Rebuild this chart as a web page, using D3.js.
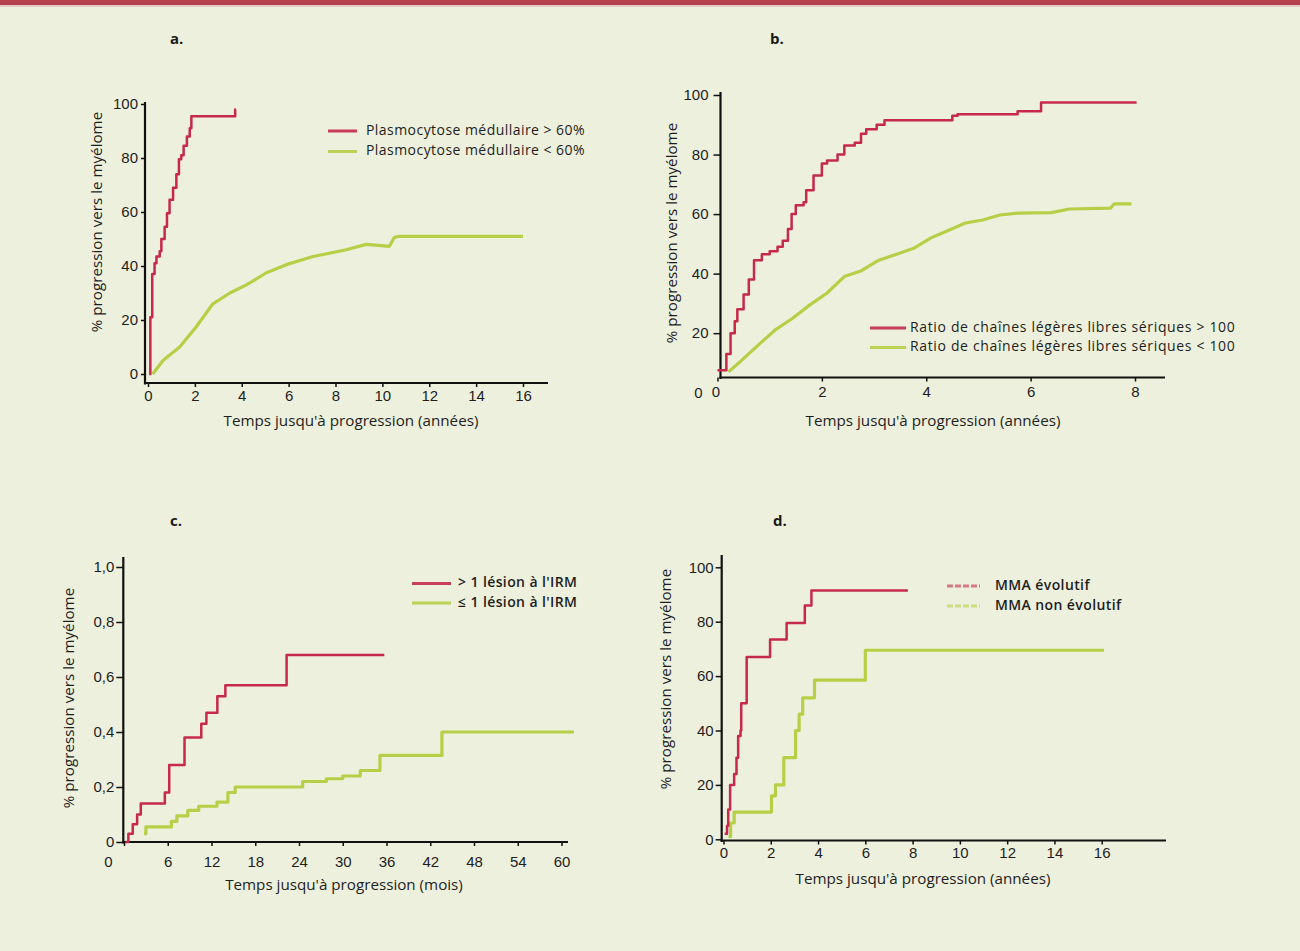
<!DOCTYPE html>
<html><head><meta charset="utf-8">
<script src="https://cdn.jsdelivr.net/npm/d3@7"></script>
<style>
body{margin:0;background:#edf0dd;}
svg{display:block;font-family:"Open Sans",sans-serif;}
</style></head><body>
<svg id="chart" width="1300" height="951"></svg>
<script>
// ---------- DATA ----------
const panelLabels = ["a.", "b.", "c.", "d."];
const yTitle = "% progression vers le myélome";
const xTitleYears = "Temps jusqu'à progression (années)";
const xTitleMonths = "Temps jusqu'à progression (mois)";

const aLegend = ["Plasmocytose médullaire > 60%", "Plasmocytose médullaire < 60%"];
const bLegend = ["Ratio de chaînes légères libres sériques > 100", "Ratio de chaînes légères libres sériques < 100"];
const cLegend = ["> 1 lésion à l'IRM", "≤ 1 lésion à l'IRM"];
const dLegend = ["MMA évolutif", "MMA non évolutif"];

const aXTicks = [0,2,4,6,8,10,12,14,16];
const aYTicks = [0,20,40,60,80,100];
const bXTicks = [0,2,4,6,8];
const bYTicks = [0,20,40,60,80,100];
const cXTicks = [0,6,12,18,24,30,36,42,48,54,60];
const cYTicks = [0,0.2,0.4,0.6,0.8,1.0];
const dXTicks = [0,2,4,6,8,10,12,14,16];
const dYTicks = [0,20,40,60,80,100];

// [time, cumulative progression]
const aRed = [[0.05,0],[0.1,21],[0.17,21],[0.18,37],[0.28,41],[0.36,43.5],[0.5,45.5],[0.57,50],[0.71,54.5],[0.81,59.5],[0.92,64.5],[1.07,69],[1.21,74],[1.32,79.5],[1.42,81],[1.52,84.5],[1.66,88],[1.78,91],[1.85,95.5],[3.68,95.5],[3.72,98],[3.75,98]];
const aGreen = [[0.2,0],[0.64,5],[1.35,10],[2.06,17.5],[2.77,26],[3.49,30],[4.2,33],[5.05,37.5],[5.9,40.5],[7.04,43.5],[8.46,46],[9.3,48],[10.3,47.3],[10.5,50.5],[10.7,51],[16,51]];

const bRed = [[0,7.5],[0.17,13],[0.25,20],[0.33,24],[0.38,28],[0.5,33],[0.6,38],[0.7,44.5],[0.85,46.5],[1.0,47.5],[1.15,49],[1.25,51],[1.35,55],[1.42,60],[1.5,63],[1.65,64],[1.7,68],[1.84,73],[2.0,77],[2.1,78],[2.3,80],[2.43,83],[2.63,84],[2.75,87],[2.85,88.5],[3.05,90],[3.2,91.5],[4.3,91.5],[4.5,93],[4.6,93.5],[5.75,94.5],[6.2,97.5],[8.03,97.5]];
const bGreen = [[0.21,7],[0.44,10.5],[0.78,16],[1.1,21],[1.44,25],[1.77,29.5],[2.1,33.5],[2.43,39],[2.76,41],[3.09,44.5],[3.43,46.5],[3.76,48.5],[4.09,52],[4.42,54.5],[4.75,57],[5.08,58],[5.41,59.7],[5.75,60.3],[6.4,60.5],[6.74,61.7],[7.53,62],[7.6,63.4],[7.93,63.4]];

const cRed = [[0.2,0],[0.6,0.03],[1.2,0.065],[1.8,0.1],[2.3,0.14],[5.6,0.18],[6.2,0.28],[8.3,0.38],[10.6,0.43],[11.3,0.47],[12.8,0.53],[13.9,0.57],[22.3,0.68],[35.7,0.68]];
const cGreen = [[2.75,0.03],[3,0.055],[6.5,0.075],[7.25,0.095],[8.75,0.115],[10.25,0.13],[12.75,0.145],[14.25,0.18],[15.25,0.2],[24.5,0.22],[27.75,0.23],[30,0.24],[32.4,0.26],[35.1,0.315],[43.6,0.4],[61.7,0.4]];

const dRed = [[0.05,2],[0.15,5],[0.2,11],[0.28,20],[0.45,24],[0.55,30],[0.62,38],[0.72,40],[0.75,50],[0.98,67],[1.97,73.5],[2.67,79.5],[3.44,86],[3.72,91.5],[7.8,91.5]];
const dGreen = [[0.21,1],[0.3,6],[0.45,10],[2.03,16],[2.2,20],[2.55,30],[3.05,40],[3.2,46],[3.35,52],[3.85,58.5],[6.0,69.5],[16.1,69.5]];

// ---------- STYLE ----------
const RED = "#c6294c", GREEN = "#b6cf47", INK = "#1e1e1e";

const svg = d3.select("#chart");
svg.append("rect").attr("x",0).attr("y",0).attr("width",1300).attr("height",951).attr("fill","#edf0dd");
svg.append("rect").attr("x",0).attr("y",0).attr("width",1300).attr("height",5).attr("fill","#b5404f");
svg.append("rect").attr("x",0).attr("y",5).attr("width",1300).attr("height",2).attr("fill","#e2c9c4");

const frFmt = d3.formatLocale({decimal:",", thousands:" ", grouping:[3], currency:["","€"]}).format(".1f");

function panel(cfg){
  const g = svg.append("g");
  const x = d3.scaleLinear().domain(cfg.xDom).range(cfg.xRange);
  const y = d3.scaleLinear().domain(cfg.yDom).range(cfg.yRange);

  g.append("line").attr("x1",cfg.yAxisX).attr("x2",cfg.yAxisX).attr("y1",cfg.yAxisTop).attr("y2",cfg.xAxisY+1.5)
    .attr("stroke","#111").attr("stroke-width",2.2);
  g.append("line").attr("x1",cfg.yAxisX-1).attr("x2",cfg.xAxisEnd).attr("y1",cfg.xAxisY).attr("y2",cfg.xAxisY)
    .attr("stroke","#111").attr("stroke-width",2.2);

  const ax = g.append("g").attr("transform",`translate(0,${cfg.xAxisY})`)
    .call(d3.axisBottom(x).tickValues(cfg.xTicks).tickSize(4).tickPadding(cfg.xPad).tickFormat(d=>String(d)));
  ax.select(".domain").remove();
  ax.selectAll(".tick line").attr("stroke","#111").attr("stroke-width",1.5);
  ax.selectAll(".tick text").attr("fill",INK).style("font-size",cfg.tickFont+"px");
  if (cfg.xZeroShift) ax.selectAll(".tick").filter(d=>d===0).select("text").attr("dx",cfg.xZeroShift);

  const ay = g.append("g").attr("transform",`translate(${cfg.yAxisX},0)`)
    .call(d3.axisLeft(y).tickValues(cfg.yTicks).tickSize(cfg.yTick).tickPadding(cfg.yPad).tickFormat(cfg.yFmt));
  ay.select(".domain").remove();
  ay.selectAll(".tick line").attr("stroke","#111").attr("stroke-width",1.5);
  ay.selectAll(".tick text").attr("fill",INK).style("font-size",cfg.tickFont+"px");
  if (cfg.hideZeroTick) ay.selectAll(".tick").filter(d=>d===0).select("line").remove();
  if (cfg.yZeroShift) ay.selectAll(".tick").filter(d=>d===0).select("text").attr("dx",cfg.yZeroShift);

  g.append("text").attr("x",cfg.xTitlePos[0]).attr("y",cfg.xTitlePos[1]).attr("text-anchor","middle")
    .attr("dominant-baseline","middle").attr("fill",INK).style("font-size","15.2px").text(cfg.xTitle);
  g.append("text").attr("transform",`translate(${cfg.yTitlePos[0]},${cfg.yTitlePos[1]}) rotate(-90)`)
    .attr("text-anchor","middle").attr("dominant-baseline","middle").attr("fill",INK)
    .style("font-size","15.2px").text(yTitle);
  g.append("text").attr("x",cfg.labelPos[0]).attr("y",cfg.labelPos[1]).attr("dominant-baseline","middle")
    .attr("fill","#1a1a1a").style("font-size","15px").style("font-weight","700").text(cfg.label);

  const series = [[cfg.red, RED, 2.5, cfg.redCurve],[cfg.green, GREEN, 3.2, cfg.greenCurve]];
  series.slice().reverse().forEach(([data,col,w,curve])=>{
    g.append("path").datum(data)
      .attr("d", d3.line().x(d=>x(d[0])).y(d=>y(d[1])).curve(curve))
      .attr("fill","none").attr("stroke",col).attr("stroke-width",w).attr("stroke-linejoin","round");
  });

  const L = cfg.legend;
  [[RED,L.y[0],cfg.legendText[0]],[GREEN,L.y[1],cfg.legendText[1]]].forEach(([col,yy,t])=>{
    g.append("line").attr("x1",L.x1).attr("x2",L.x2).attr("y1",yy).attr("y2",yy)
      .attr("stroke",col).attr("stroke-width",3).attr("opacity",L.opacity||0.9)
      .attr("stroke-dasharray",L.dash||null);
    g.append("text").attr("x",L.tx).attr("y",yy).attr("dominant-baseline","middle").attr("fill",INK)
      .style("font-size",L.font+"px").style("letter-spacing",(L.ls||0)+"px")
      .style("font-weight",L.weight||400).text(t);
  });
}

panel({
  label:panelLabels[0], labelPos:[170,40],
  xDom:[0,16], xRange:[148,523], yDom:[0,100], yRange:[374,104],
  xAxisY:383, yAxisX:145, xAxisEnd:548, yAxisTop:102,
  xTicks:aXTicks, yTicks:aYTicks, yFmt:d=>String(d), yTick:4, yPad:3, xPad:3, tickFont:15,
  xTitle:xTitleYears, xTitlePos:[351,422], yTitlePos:[98,222],
  red:aRed, green:aGreen, redCurve:d3.curveStepAfter, greenCurve:d3.curveLinear,
  legend:{x1:328,x2:357,y:[131,151.5],tx:366,font:14,ls:0.45}, legendText:aLegend
});

panel({
  label:panelLabels[1], labelPos:[770,40],
  xDom:[0,8], xRange:[717.5,1135], yDom:[0,100], yRange:[392.7,95],
  xAxisY:377.5, yAxisX:720.5, xAxisEnd:1165, yAxisTop:92,
  xTicks:bXTicks, yTicks:bYTicks, yFmt:d=>String(d), yTick:7, yPad:5, xPad:5, tickFont:15,
  xZeroShift:-2, yZeroShift:-6, hideZeroTick:true,
  xTitle:xTitleYears, xTitlePos:[933,422], yTitlePos:[673,233],
  red:bRed, green:bGreen, redCurve:d3.curveStepAfter, greenCurve:d3.curveLinear,
  legend:{x1:870,x2:906,y:[328,347.5],tx:910,font:14,ls:0.65}, legendText:bLegend
});

panel({
  label:panelLabels[2], labelPos:[170,522],
  xDom:[0,60], xRange:[124,561.5], yDom:[0,1], yRange:[842,567],
  xAxisY:842, yAxisX:123.3, xAxisEnd:568, yAxisTop:557,
  xTicks:cXTicks, yTicks:cYTicks, yFmt:d=>d===0?"0":frFmt(d), yTick:7, yPad:2, xPad:10, tickFont:15,
  xZeroShift:-16,
  xTitle:xTitleMonths, xTitlePos:[344,886], yTitlePos:[70,698],
  red:cRed, green:cGreen, redCurve:d3.curveStepAfter, greenCurve:d3.curveStepAfter,
  legend:{x1:412,x2:451,y:[583.5,603],tx:458,font:14,ls:0.4,weight:600}, legendText:cLegend
});

panel({
  label:panelLabels[3], labelPos:[773,522],
  xDom:[0,16], xRange:[723.5,1101.7], yDom:[0,100], yRange:[839.3,567.3],
  xAxisY:840.5, yAxisX:721.7, xAxisEnd:1166, yAxisTop:555,
  xTicks:dXTicks, yTicks:dYTicks, yFmt:d=>String(d), yTick:6, yPad:2, xPad:3, tickFont:15,
  xTitle:xTitleYears, xTitlePos:[923,880], yTitlePos:[667,679],
  red:dRed, green:dGreen, redCurve:d3.curveStepAfter, greenCurve:d3.curveStepAfter,
  legend:{x1:947,x2:980,y:[586,606],tx:995,font:14,ls:0.4,weight:600,opacity:0.6,dash:"6,2"}, legendText:dLegend
});
</script>
</body></html>
